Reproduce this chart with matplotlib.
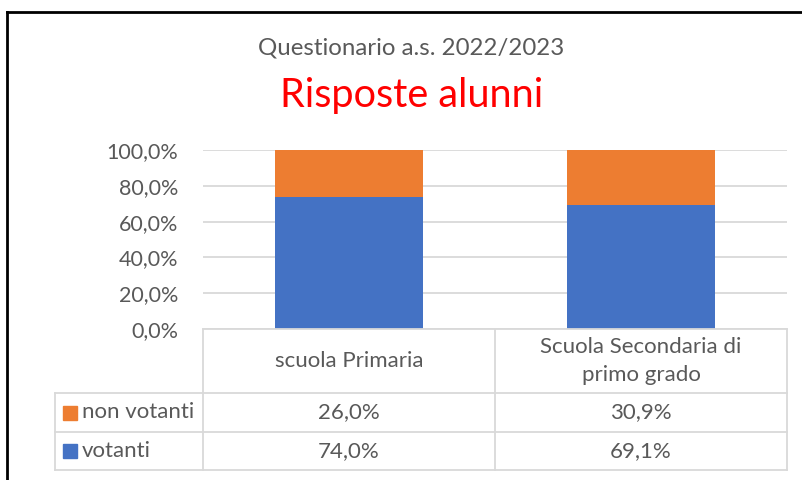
import numpy as np
import matplotlib
matplotlib.use("Agg")
import matplotlib.pyplot as plt
from matplotlib.lines import Line2D
from matplotlib.patches import Rectangle

# ======================== Dati ========================
categorie = ["scuola Primaria", "Scuola Secondaria di\nprimo grado"]
serie = ["non votanti", "votanti"]
votanti = [74.0, 69.1]
non_votanti = [26.0, 30.9]
y_ticks = [0, 20, 40, 60, 80, 100]

BLU = "#4472C4"
ARANCIO = "#ED7D31"
GRIGIO = "#595959"
LINEA = "#D9D9D9"

plt.rcParams["font.family"] = ["Lato", "DejaVu Sans"]

W, H = 802, 480
fig = plt.figure(figsize=(W / 100, H / 100), dpi=100)


def fx(px):
    return px / W


def fy(py):
    return 1 - py / H


# ======================== Assi ========================
x0, x1, y_top, y_bot = 203, 787, 150, 329
ax = fig.add_axes([fx(x0), fy(y_bot), fx(x1 - x0), (y_bot - y_top) / H])

x = np.arange(len(categorie))
ax.bar(x, votanti, width=0.51, color=BLU, zorder=3)
ax.bar(x, non_votanti, width=0.51, bottom=votanti, color=ARANCIO, zorder=3)

ax.set_xlim(-0.5, len(categorie) - 0.5)
ax.set_ylim(0, 100)
ax.set_yticks(y_ticks)
ax.set_yticklabels([f"{v:.1f}%".replace(".", ",") for v in y_ticks])
ax.tick_params(axis="y", length=0, pad=18, labelsize=15.5, labelcolor=GRIGIO)
ax.set_xticks([])
for s in ax.spines.values():
    s.set_visible(False)
ax.yaxis.grid(True, color=LINEA, linewidth=1.3, zorder=0)

# ======================== Titoli ========================
fig.text(fx(411), fy(48), "Questionario a.s. 2022/2023", ha="center", va="center",
         fontsize=17.3, color=GRIGIO)
fig.text(fx(412), fy(95), "Risposte alunni", ha="center", va="center",
         fontsize=28.5, color="#FF0000")

# ======================== Tabella dati ========================
col_x = [203, 495, 787]
row_y = [329, 393, 432, 470]
leg_x = 55
fs = 16


def hline(y, xa, xb):
    fig.add_artist(Line2D([fx(xa), fx(xb)], [fy(y), fy(y)], color=LINEA, lw=1.3))


def vline(xp, ya, yb):
    fig.add_artist(Line2D([fx(xp), fx(xp)], [fy(ya), fy(yb)], color=LINEA, lw=1.3))


hline(row_y[0], col_x[0], col_x[-1])
for r in row_y[1:]:
    hline(r, leg_x, col_x[-1])
for c in col_x:
    vline(c, row_y[0], row_y[-1])
vline(leg_x, row_y[1], row_y[-1])

centri = [(col_x[i] + col_x[i + 1]) / 2 for i in range(len(categorie))]
for cx, nome in zip(centri, categorie):
    fig.text(fx(cx), fy((row_y[0] + row_y[1]) / 2), nome, ha="center", va="center",
             fontsize=fs, color=GRIGIO, linespacing=1.45)

righe = [(serie[0], non_votanti, ARANCIO), (serie[1], votanti, BLU)]
for i, (nome, valori, col) in enumerate(righe):
    yc = (row_y[i + 1] + row_y[i + 2]) / 2
    fig.add_artist(Rectangle((fx(63), fy(yc + 7)), fx(14), 14 / H, color=col))
    fig.text(fx(82), fy(yc), nome, ha="left", va="center", fontsize=fs, color=GRIGIO)
    for cx, v in zip(centri, valori):
        fig.text(fx(cx), fy(yc), f"{v:.1f}%".replace(".", ","), ha="center",
                 va="center", fontsize=fs, color=GRIGIO)

# ======================== Bordo ========================
fig.add_artist(Line2D([fx(7), fx(7)], [fy(12), 0], color="black", lw=2))
fig.add_artist(Line2D([fx(7), 1], [fy(12), fy(12)], color="black", lw=2))

fig.savefig("out.png", dpi=100)
